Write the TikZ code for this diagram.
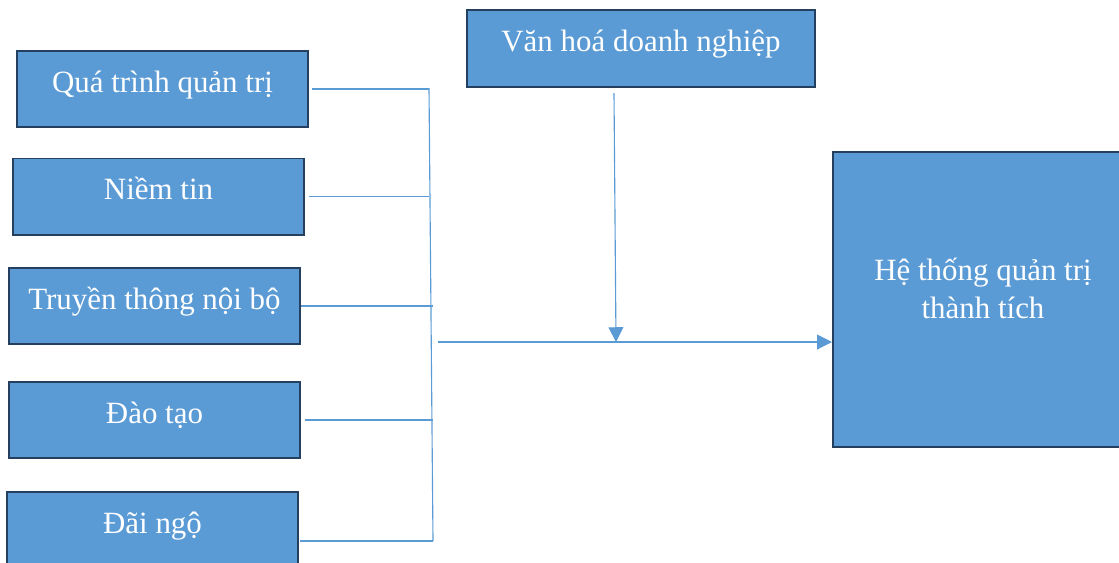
\documentclass[tikz,border=0pt]{standalone}
\usepackage{fontspec}
\setmainfont{Liberation Serif}
\usetikzlibrary{arrows.meta, positioning}

\definecolor{boxblue}{HTML}{5B9BD5}
\definecolor{boxedge}{HTML}{253F5F}
\definecolor{linkblue}{HTML}{5B9BD5}

\begin{document}
\begin{tikzpicture}[
    x=0.025cm, y=-0.025cm,
    factor/.style={rectangle, draw=boxedge, fill=boxblue, line width=1.4pt, minimum width=7.275cm, minimum height=1.9cm, inner sep=0pt, align=center, text=white, font=\fontsize{22}{27}\selectfont, text depth=11pt},
    bigbox/.style={factor, minimum width=7.5cm, minimum height=7.375cm, text depth=16pt},
    link/.style={draw=linkblue, line width=0.8pt},
    arrow/.style={link, -{Triangle[length=10.5pt, width=10.5pt]}},
]
    \clip (0,0) rectangle (1119,562);

    % Factors on the left
    \node[factor] (qtqt) at (162.5,89) {Quá trình quản trị};
    \node[factor] (niemtin) at (158.5,196.5) {Niềm tin};
    \node[factor] (truyenthong) at (154.5,306) {Truyền thông nội bộ};
    \node[factor] (daotao) at (154.5,420) {Đào tạo};
    \node[factor] (daingo) at (152.5,530) {Đãi ngộ};

    % Moderating factor and outcome
    \node[factor, minimum width=8.7cm, minimum height=1.925cm] (vanhoa) at (641,48.5) {Văn hoá doanh nghiệp};
    \node[bigbox] (hethong) at (983,299.5) {Hệ thống quản trị\\thành tích};

    % Bracket collecting the factors
    \coordinate (brktop) at (429,88);
    \coordinate (brkbot) at (433,541);
    \coordinate (mid) at (438,342);
    \coordinate (vtop) at (614,93);
    \coordinate (vbot) at (616,342);

    \draw[link] ([xshift=2pt]qtqt.east) -- (qtqt.east -| brktop);
    \draw[link] ([xshift=3pt]niemtin.east) -- (niemtin.east -| brktop);
    \draw[link] (truyenthong.east) -- (truyenthong.east -| brkbot);
    \draw[link] ([xshift=3pt]daotao.east) -- (daotao.east -| brkbot);
    \draw[link] ([xshift=1pt]daingo.east |- brkbot) -- (brkbot);
    \draw[link] (brktop) -- (brkbot);

    % Main arrows
    \draw[arrow] (mid) -- (mid -| hethong.west);
    \draw[arrow] (vtop) -- (vbot);

\end{tikzpicture}
\end{document}
